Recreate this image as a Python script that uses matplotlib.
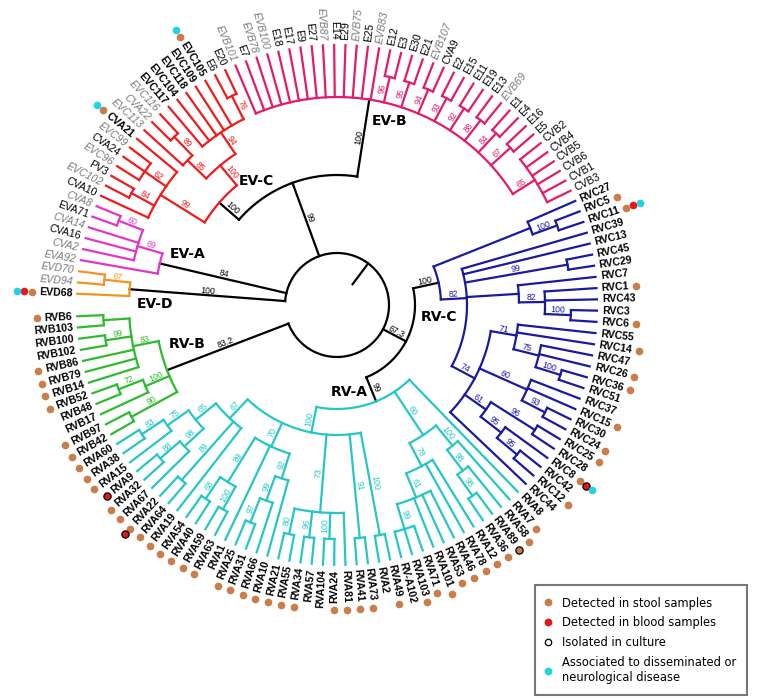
import numpy as np
import matplotlib
matplotlib.use("Agg")
import matplotlib.pyplot as plt
from matplotlib.font_manager import FontProperties
from matplotlib.lines import Line2D

# ==============================
# DATA
# ==============================
# leaves in drawing order, clockwise starting at EVD68 (left)
LEAVES = [
    "EVD68", "EVD94", "EVD70",
    "EVA92", "CVA2", "CVA16", "CVA14", "EVA71", "CVA8",
    "CVA10", "EVC102", "PV3", "EVC96", "CVA24", "EVC99", "CVA21", "EVC113", "CVA22",
    "EVC116", "EVC117", "EVC104", "EVC118", "EVC109", "EVC105", "E6", "E20",
    "EVB101", "E7", "EVB78", "EVB100", "E18", "E17", "E9", "E27", "EVB87", "E14", "E29",
    "EVB75", "E25", "EVB83", "E12", "E3", "E30", "E21", "EVB107", "CVA9", "E2", "E15",
    "E11", "E19", "E13", "EVB69", "E1", "E4", "E16", "E5",
    "CVB2", "CVB4", "CVB5", "CVB6", "CVB1", "CVB3",
    "RVC27", "RVC5", "RVC11", "RVC39", "RVC13", "RVC45", "RVC29", "RVC7", "RVC1", "RVC43",
    "RVC3", "RVC6", "RVC55", "RVC14", "RVC47", "RVC26", "RVC36", "RVC51", "RVC37", "RVC15",
    "RVC30", "RVC24", "RVC25", "RVC28", "RVC8", "RVC42", "RVC12", "RVC44",
    "RVA8", "RVA7", "RVA58", "RVA89", "RVA36", "RVA12", "RVA78", "RVA46", "RVA53", "RVA101",
    "RVA71", "RVA103", "RV-A102", "RVA49", "RVA2", "RVA73", "RVA41", "RVA81", "RVA24", "RVA104",
    "RVA57", "RVA34", "RVA55", "RVA21", "RVA10", "RVA66", "RVA31", "RVA25", "RVA1", "RVA63",
    "RVA59", "RVA40", "RVA54", "RVA19", "RVA64", "RVA22", "RVA67", "RVA32", "RVA9", "RVA15",
    "RVA38", "RVA60",
    "RVB42", "RVB97", "RVB17", "RVB48", "RVB52", "RVB14", "RVB79", "RVB86", "RVB102",
    "RVB100", "RVB103", "RVB6",
]

GREY_LEAVES = ["EVD94", "EVD70", "EVA92", "CVA2", "CVA14", "CVA8", "EVC102", "EVC96",
               "EVC99", "EVC113", "CVA22", "EVC116", "EVB101", "EVB78", "EVB100", "EVB87",
               "EVB75", "EVB83", "EVB107", "EVB69"]
PATIENT_LEAVES = [n for n in LEAVES if n.startswith("RV")] + \
    ["EVD68", "CVA21", "EVC117", "EVC104", "EVC118", "EVC109", "EVC105"]

STOOL = ["EVC105", "CVA21", "EVD68", "RVC5", "RVC11", "RVC1", "RVC6", "RVC14", "RVC26",
         "RVC36", "RVC15", "RVC24", "RVC25", "RVC8", "RVC12", "RVA7", "RVA58", "RVA89",
         "RVA36", "RVA12", "RVA78", "RVA46", "RVA53", "RVA101", "RVA71", "RVA103", "RVA49",
         "RVA73", "RVA41", "RVA81", "RVA24", "RVA34", "RVA55", "RVA21", "RVA10", "RVA66",
         "RVA31", "RVA25", "RVA63", "RVA59", "RVA40", "RVA54", "RVA19", "RVA64", "RVA22",
         "RVA67", "RVA32", "RVA15", "RVA38", "RVA60", "RVB42", "RVB97", "RVB52", "RVB14",
         "RVB79", "RVB86", "RVB6"]
BLOOD = ["EVD68", "RVC11", "RVC8", "RVA9", "RVA22"]
CULTURE = ["RVC8", "RVA89", "RVA9", "RVA22"]
NEURO = ["EVC105", "CVA21", "EVD68", "RVC11", "RVC8"]

# tree nodes: (bootstrap, depth level, children[, clade name])
EVD_TREE = ("100", 8, ["EVD68", ("67", 9, ["EVD94", "EVD70"])], "EV-D")

EVA_TREE = ("84", 7, ["EVA92",
                      ("69", 8, ["CVA2", "CVA16", "CVA14", ("60", 9, ["EVA71", "CVA8"])])],
            "EV-A")

EVC_TREE = ("100", 6, [
    ("99", 8, ["CVA10", ("84", 9, ["EVC102", "PV3"]),
               ("62", 9, ["EVC96", "CVA24", "EVC99"]), "CVA21"]),
    ("100", 7, [("85", 8, ["EVC113", ("89", 9, ["CVA22", "EVC116"])]),
                ("94", 8, ["EVC117", "EVC104", "EVC118", "EVC109", "EVC105",
                           ("76", 9, ["E6", "E20"])])]),
], "EV-C")

EVB_TREE = ("100", 8, [
    "EVB101", "E7", "EVB78", "EVB100", "E18", "E17", "E9", "E27", "EVB87", "E14", "E29",
    "EVB75", "E25", "EVB83",
    ("96", 9, ["E12", "E3"]), ("95", 9, ["E30", "E21"]), ("94", 9, ["EVB107", "CVA9"]),
    ("93", 9, ["E2", "E15"]), ("92", 9, ["E11", "E19"]), ("88", 9, ["E13", "EVB69"]),
    ("84", 9, ["E1", "E4"]), ("67", 9, ["E16", "E5"]),
    ("65", 9, ["CVB2", "CVB4", "CVB5", "CVB6", "CVB1", "CVB3"]),
], "EV-B")

RVC_TREE = ("100", 4, [
    ("", 8, ["RVC27", ("100", 9, ["RVC5", "RVC11"])]),
    ("82", 5, ["RVC39", "RVC13", ("99", 9, ["RVC45", "RVC29"]),
               ("", 7, ["RVC7", ("82", 8, ["RVC1", "RVC43", ("100", 9, ["RVC3", "RVC6"])])]),
               ("74", 6, [
                   ("71", 7, ["RVC55", "RVC14",
                              ("75", 8, ["RVC47", "RVC26", ("100", 9, ["RVC36", "RVC51"])])]),
                   ("60", 8, ["RVC37", "RVC15", ("93", 9, ["RVC30", "RVC24"])]),
                   ("61", 7, [("96", 9, ["RVC25", "RVC28"]),
                              ("95", 8, ["RVC8", ("95", 9, ["RVC42", "RVC12"])])]),
                   "RVC44"])]),
], "RV-C")

RVA_TREE = ("99", 4, [
    ("100", 5, [
        ("67", 6, ["RVA19", ("89", 9, ["RVA64", "RVA22"]),
                   ("65", 7, [("98", 8, ["RVA67", ("88", 9, ["RVA32", "RVA9"])]),
                              ("75", 8, ["RVA15", ("83", 9, ["RVA38", "RVA60"])])])]),
        ("70", 6, [("92", 7, ["RVA10", ("99", 8, ["RVA66", ("97", 9, ["RVA31", "RVA25"])])]),
                   "RVA1",
                   ("89", 8, [("100", 9, ["RVA63", "RVA59"]), ("68", 9, ["RVA40", "RVA54"])])]),
        ("73", 8, ["RVA81", ("100", 9, ["RVA24", "RVA104"]), ("96", 9, ["RVA57", "RVA34"]),
                   ("80", 9, ["RVA55", "RVA21"])]),
        ("91", 9, ["RVA73", "RVA41"]),
        ("100", 9, ["RVA49", "RVA2"]),
    ]),
    ("60", 6, [("100", 7, ["RVA7", ("98", 8, ["RVA58", ("98", 9, ["RVA89", "RVA36"])])]),
               ("78", 7, ["RVA12", "RVA78",
                          ("61", 8, ["RVA46", "RVA53", "RVA101",
                                     ("99", 9, ["RVA71", "RVA103", "RV-A102"])])])]),
    "RVA8",
], "RV-A")

RVB_TREE = ("83.2", 7, [
    ("90", 9, ["RVB42", "RVB97"]),
    ("100", 8, ["RVB17", ("72", 9, ["RVB48", "RVB52"])]),
    ("83", 8, ["RVB14", "RVB79", "RVB86", ("99", 9, ["RVB102", "RVB100"]),
               ("", 9, ["RVB103", "RVB6"])]),
], "RV-B")

EVBC_TREE = ("99", 5, [EVC_TREE, EVB_TREE])
RVAC_TREE = ("67.3", 3, [RVC_TREE, RVA_TREE])
ROOT = ("", 2, [EVD_TREE, EVA_TREE, EVBC_TREE, RVAC_TREE, RVB_TREE])

CLADE_COLORS = {"EV-D": "#F29423", "EV-A": "#E236C4", "EV-C": "#EE1C1C",
                "EV-B": "#E11B6E", "RV-C": "#1A1A9E", "RV-A": "#27C6C6",
                "RV-B": "#2EBB2E"}
# clade name position, pixels from the clade node
CLADE_LABEL_SHIFT = {"EV-B": (20, -21), "EV-C": (37, 22), "EV-A": (28, 9),
                     "EV-D": (25, -15), "RV-B": (20, 26), "RV-C": (0, -34),
                     "RV-A": (-27, 9)}

BROWN = "#C97D48"
RED = "#E8141C"
CYAN = "#22D3E0"

# ==============================
# GEOMETRY
# ==============================
N_SLOTS = 145       # one empty slot between RVB6 and EVD68
LEVEL = 26          # pixels per depth level
TIP_LEVEL = 10
LABEL_R = 265
LW = 1.6

leaf_theta = {n: 180 - (i + 1) * 360 / N_SLOTS for i, n in enumerate(LEAVES)}


def theta(node):
    if isinstance(node, str):
        return leaf_theta[node]
    return np.mean([theta(k) for k in node[2]])


def text_rot(th):
    t = (th + 180) % 360 - 180
    if -90 <= t <= 90:
        return t, "left"
    return t - 180, "right"


fig = plt.figure(figsize=(7.63, 6.98), dpi=100)
cx, cy, R = 337, 305, 300
ax = fig.add_axes([(cx - R) / 763, (698 - cy - R) / 698, 2 * R / 763, 2 * R / 698],
                  projection="polar")
ax.set_ylim(0, R)
ax.set_axis_off()


def radial(th, r0, r1, color):
    ax.plot(np.radians([th, th]), [r0, r1], color=color, lw=LW,
            solid_capstyle="projecting", clip_on=False)


def arc(a, b, r, color):
    ths = np.linspace(a, b, max(2, int(abs(b - a) * 3)))
    ax.plot(np.radians(ths), np.full_like(ths, r), color=color, lw=LW,
            solid_capstyle="projecting", clip_on=False)


clade_pos = {}


def draw(node, r_parent, color):
    th = theta(node)
    if isinstance(node, str):
        radial(th, r_parent, TIP_LEVEL * LEVEL, color)
        return
    sup, lev, kids = node[:3]
    r = lev * LEVEL
    if r > r_parent:
        radial(th, r_parent, r, color)
        if sup:
            rot, _ = text_rot(th)
            ax.text(np.radians(th), (r_parent + r) / 2, sup, rotation=rot,
                    rotation_mode="anchor", ha="center", va="bottom",
                    fontsize=6.3, family="Liberation Sans", color=color)
    if len(node) > 3:
        color = CLADE_COLORS[node[3]]
        clade_pos[node[3]] = (th, r)
    ths = [theta(k) for k in kids]
    arc(min(ths), max(ths), r, color)
    for k in kids:
        draw(k, r, color)


# root stub and tree
radial(theta(ROOT), LEVEL, ROOT[1] * LEVEL, "black")
draw(ROOT, ROOT[1] * LEVEL, "black")

for name, (th, r) in clade_pos.items():
    dx, dy = CLADE_LABEL_SHIFT[name]
    ax.annotate(name, xy=(np.radians(th), r), xytext=(dx, dy), textcoords="offset pixels",
                ha="center", va="center", fontsize=10, fontweight="bold",
                family="DejaVu Sans", color="black", annotation_clip=False)

# ==============================
# LEAF LABELS + MARKERS
# ==============================
renderer = fig.canvas.get_renderer()
for name in LEAVES:
    th = leaf_theta[name]
    rot, ha = text_rot(th)
    grey = name in GREY_LEAVES
    fp = FontProperties(family="Liberation Sans", size=7.6,
                        weight="bold" if name in PATIENT_LEAVES else "normal",
                        style="italic" if grey else "normal")
    ax.text(np.radians(th), LABEL_R, name, rotation=rot, rotation_mode="anchor",
            ha=ha, va="center", fontproperties=fp, color="#7a7a7a" if grey else "black")

    dots = []
    if name in STOOL:
        dots.append([BROWN, BROWN])
    if name in BLOOD:
        dots.append([RED, RED])
    if name in CULTURE and dots:
        dots[-1][1] = "black"
    if name in NEURO:
        dots.append([CYAN, CYAN])
    w = renderer.get_text_width_height_descent(name, fp, ismath=False)[0]
    r = LABEL_R + w + 7
    for fc, ec in dots:
        ax.plot(np.radians(th), r, "o", ms=4.6 if ec != "black" else 5.2, mfc=fc, mec=ec,
                mew=0.9, clip_on=False)
        r += 7.5

# ==============================
# LEGEND
# ==============================
handles = [
    Line2D([], [], marker="o", ls="none", ms=4.6, mfc=BROWN, mec=BROWN),
    Line2D([], [], marker="o", ls="none", ms=4.6, mfc=RED, mec=RED),
    Line2D([], [], marker="o", ls="none", ms=4.6, mfc="white", mec="black", mew=0.9),
    Line2D([], [], marker="o", ls="none", ms=4.6, mfc=CYAN, mec=CYAN),
]
labels = ["Detected in stool samples", "Detected in blood samples", "Isolated in culture",
          "Associated to disseminated or\nneurological disease"]
leg = fig.legend(handles, labels, loc="upper left", bbox_to_anchor=(535 / 763, 1 - 585 / 698),
                 borderaxespad=0, frameon=True, fancybox=False, edgecolor="#555555",
                 prop=FontProperties(family="DejaVu Sans", size=8.3),
                 handlelength=0.3, handletextpad=1.0, labelspacing=0.58, borderpad=1.0)
leg.get_frame().set_linewidth(1.5)

fig.savefig("out.png", dpi=100)
